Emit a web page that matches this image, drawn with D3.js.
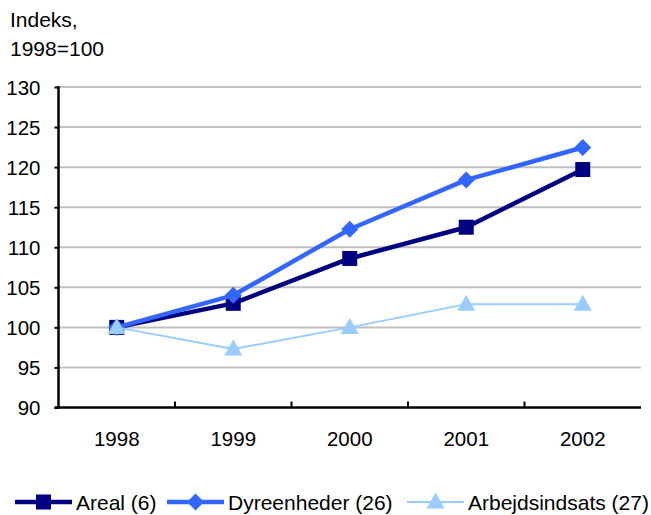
<!DOCTYPE html>
<html><head><meta charset="utf-8">
<script src="https://cdn.jsdelivr.net/npm/d3@7"></script>
<style>body{margin:0;background:#fff}svg{display:block}text{font-family:"Liberation Sans",Arial,sans-serif;fill:#000}</style>
</head><body><svg id="c" width="651" height="515"></svg>
<script>
const years = ["1998","1999","2000","2001","2002"];
const areal = [100, 103.0, 108.6, 112.5, 119.7];
const dyreenheder = [100, 104.0, 112.25, 118.4, 122.45];
const arbejdsindsats = [100, 97.3, 100.0, 102.9, 102.9];
const yTicks = [90, 95, 100, 105, 110, 115, 120, 125, 130];
const seriesNames = ["Areal (6)", "Dyreenheder (26)", "Arbejdsindsats (27)"];

const series = [
  {name: seriesNames[0], values: areal, color: "#000080", width: 4.5, marker: "square"},
  {name: seriesNames[1], values: dyreenheder, color: "#3366FF", width: 4.5, marker: "diamond"},
  {name: seriesNames[2], values: arbejdsindsats, color: "#99CCFF", width: 2, marker: "triangle"}
];

const svg = d3.select("#c");
const L = 58.5, R = 641, T = 87, B = 407.5;
const x = d3.scaleBand().domain(years).range([L, R]);
const y = d3.scaleLinear().domain([90, 130]).range([B, T]);

// gridlines
svg.append("g").selectAll("line").data(yTicks.filter(v => v > 90)).join("line")
  .attr("x1", L).attr("x2", R).attr("y1", d => y(d)).attr("y2", d => y(d))
  .attr("stroke", "#c0c0c0").attr("stroke-width", 2);

// y axis
const yAxis = d3.axisLeft(y).tickValues(yTicks).tickSize(4).tickPadding(14);
const gy = svg.append("g").attr("transform", `translate(${L},0)`).call(yAxis);
gy.select(".domain").remove();
gy.selectAll(".tick line").attr("stroke", "#000").attr("stroke-width", 2);
gy.selectAll(".tick text").attr("font-size", 20.5).attr("dy", "0.36em");
svg.append("line").attr("x1", L).attr("x2", L).attr("y1", T - 1).attr("y2", B + 1)
  .attr("stroke", "#000").attr("stroke-width", 2.5);

// x axis
const xAxis = d3.axisBottom(x).tickSize(0).tickPadding(24);
const gx = svg.append("g").attr("transform", `translate(0,${B})`).call(xAxis);
gx.select(".domain").remove();
gx.selectAll(".tick text").attr("font-size", 20.5);
svg.append("g").selectAll("line").data(years.slice(1)).join("line")
  .attr("x1", d => x(d)).attr("x2", d => x(d)).attr("y1", B).attr("y2", B - 6)
  .attr("stroke", "#000").attr("stroke-width", 2);
svg.append("line").attr("x1", L - 4).attr("x2", R).attr("y1", B).attr("y2", B)
  .attr("stroke", "#000").attr("stroke-width", 2.5);

// title
svg.append("text").attr("x", 10).attr("y", 27).attr("font-size", 21).text("Indeks,");
svg.append("text").attr("x", 10).attr("y", 56).attr("font-size", 21).text("1998=100");

const cx = d => x(d) + x.bandwidth() / 2;
const line = d3.line().x((d, i) => cx(years[i])).y(d => y(d));

function marker(g, type, color, px, py) {
  if (type === "square") {
    g.append("rect").attr("x", px - 7.5).attr("y", py - 7.5).attr("width", 15).attr("height", 15).attr("fill", color);
  } else if (type === "diamond") {
    g.append("path").attr("d", `M${px},${py-8.5}L${px+8.5},${py}L${px},${py+8.5}L${px-8.5},${py}Z`).attr("fill", color);
  } else {
    g.append("path").attr("d", `M${px},${py-9.5}L${px+9},${py+6.5}L${px-9},${py+6.5}Z`).attr("fill", color);
  }
}

series.forEach(s => {
  svg.append("path").datum(s.values).attr("d", line).attr("fill", "none")
    .attr("stroke", s.color).attr("stroke-width", s.width).attr("stroke-linejoin", "round");
  const g = svg.append("g");
  s.values.forEach((v, i) => marker(g, s.marker, s.color, cx(years[i]), y(v)));
});

// legend
const legX = [15, 167, 407];
const legY = 502;
series.forEach((s, i) => {
  const g = svg.append("g");
  g.append("line").attr("x1", legX[i]).attr("x2", legX[i] + 57).attr("y1", legY).attr("y2", legY)
    .attr("stroke", s.color).attr("stroke-width", s.width);
  marker(g, s.marker, s.color, legX[i] + 28.5, legY);
  g.append("text").attr("x", legX[i] + 61).attr("y", legY + 8).attr("font-size", 21).text(s.name);
});
</script></body></html>
